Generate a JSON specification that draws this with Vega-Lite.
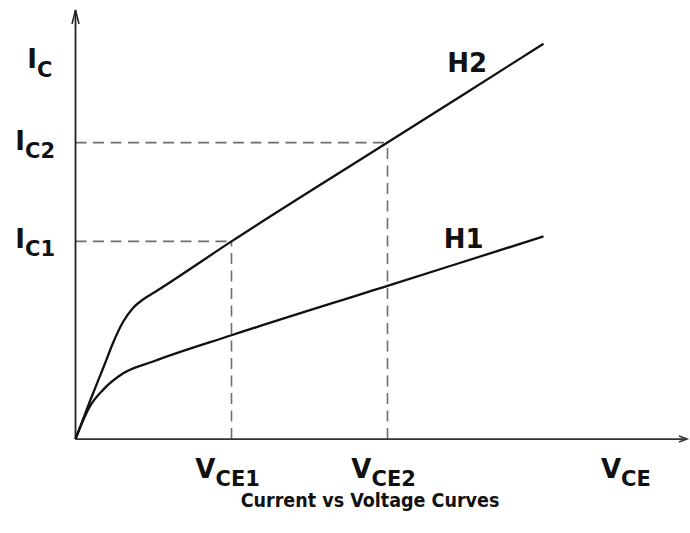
{
  "$schema": "https://vega.github.io/schema/vega-lite/v6.json",
  "width": 690,
  "height": 533,
  "padding": 0,
  "autosize": {"type": "none"},
  "background": "white",
  "config": {"view": {"stroke": null}},
  "datasets": {
    "curves": [
      {"curve": "H2", "vce": 0, "ic": 0},
      {"curve": "H2", "vce": 0.465, "ic": 0.385},
      {"curve": "H2", "vce": 0.913, "ic": 0.739},
      {"curve": "H2", "vce": 1.202, "ic": 0.972},
      {"curve": "H2", "vce": 1.522, "ic": 1.184},
      {"curve": "H2", "vce": 1.843, "ic": 1.326},
      {"curve": "H2", "vce": 2.163, "ic": 1.412},
      {"curve": "H2", "vce": 2.548, "ic": 1.488},
      {"curve": "H2", "vce": 5, "ic": 2},
      {"curve": "H2", "vce": 10, "ic": 3},
      {"curve": "H2", "vce": 15, "ic": 4},
      {"curve": "H1", "vce": 0, "ic": 0},
      {"curve": "H1", "vce": 0.46, "ic": 0.33},
      {"curve": "H1", "vce": 0.89, "ic": 0.5},
      {"curve": "H1", "vce": 1.53, "ic": 0.665},
      {"curve": "H1", "vce": 2.49, "ic": 0.785},
      {"curve": "H1", "vce": 5, "ic": 1.05},
      {"curve": "H1", "vce": 10, "ic": 1.55},
      {"curve": "H1", "vce": 15, "ic": 2.05}
    ],
    "origin": [
      {"vce": 0, "ic": 0}
    ],
    "points": [
      {"point": "1", "vce": 5, "ic": 2},
      {"point": "2", "vce": 10, "ic": 3}
    ],
    "xlabels": [
      {"main": "V", "sub": "CE1", "vce": 5, "ic": 0},
      {"main": "V", "sub": "CE2", "vce": 10, "ic": 0},
      {"main": "V", "sub": "CE", "vce": 18, "ic": 0}
    ],
    "ylabels": [
      {"main": "I", "sub": "C1", "vce": 0, "ic": 2},
      {"main": "I", "sub": "C2", "vce": 0, "ic": 3}
    ],
    "yname": [
      {"main": "I", "sub": "C", "vce": 0, "ic": 3.755}
    ],
    "curvenames": [
      {"curve": "H2", "vce": 12.55, "ic": 3.715},
      {"curve": "H1", "vce": 12.44, "ic": 1.933}
    ],
    "caption": [
      {"caption": "Current vs Voltage Curves", "vce": 9.44, "ic": -0.69}
    ]
  },
  "encoding": {
    "x": {"field": "vce", "type": "quantitative", "scale": {"domain": [-2.42, 19.696], "nice": false, "zero": false}, "axis": null},
    "y": {"field": "ic", "type": "quantitative", "scale": {"domain": [-0.951, 4.443], "nice": false, "zero": false}, "axis": null}
  },
  "layer": [
    {
      "data": {"name": "points"},
      "mark": {"type": "rule", "color": "#6e6e6e", "strokeWidth": 1.6, "strokeDash": [11, 6.5]},
      "encoding": {"x": {"datum": 0}, "x2": {"field": "vce"}}
    },
    {
      "data": {"name": "points"},
      "mark": {"type": "rule", "color": "#6e6e6e", "strokeWidth": 1.6, "strokeDash": [11, 6.5]},
      "encoding": {"y": {"datum": 0}, "y2": {"field": "ic"}}
    },
    {
      "data": {"name": "origin"},
      "mark": {"type": "rule", "color": "#333333", "strokeWidth": 1.8},
      "encoding": {"x2": {"datum": 19.6}}
    },
    {
      "data": {"name": "origin"},
      "mark": {"type": "rule", "color": "#222222", "strokeWidth": 1.8},
      "encoding": {"y2": {"datum": 4.342}}
    },
    {
      "data": {"name": "origin"},
      "mark": {"type": "point", "shape": "M-2,-0.75L0,0L-2,0.75", "size": 64, "filled": false, "opacity": 1, "color": "#333333", "strokeWidth": 1.5},
      "encoding": {"x": {"datum": 19.6}}
    },
    {
      "data": {"name": "origin"},
      "mark": {"type": "point", "shape": "M-0.5,2L0,0L0.5,2", "size": 196, "filled": false, "opacity": 1, "color": "#222222", "strokeWidth": 1.5},
      "encoding": {"y": {"datum": 4.342}}
    },
    {
      "data": {"name": "curves"},
      "mark": {"type": "line", "interpolate": "monotone", "color": "#111111", "strokeWidth": 2.3},
      "encoding": {"detail": {"field": "curve"}}
    },
    {
      "data": {"name": "curvenames"},
      "mark": {"type": "text", "font": "DejaVu Sans", "fontWeight": "bold", "fontSize": 26, "align": "center", "baseline": "alphabetic", "color": "#111111"},
      "encoding": {"text": {"field": "curve"}}
    },
    {
      "data": {"name": "xlabels"},
      "mark": {"type": "text", "font": "DejaVu Sans", "fontWeight": "bold", "fontSize": 26, "align": "right", "baseline": "alphabetic", "dx": -16, "dy": 39, "color": "#111111"},
      "encoding": {"text": {"field": "main"}}
    },
    {
      "data": {"name": "xlabels"},
      "mark": {"type": "text", "font": "DejaVu Sans", "fontWeight": "bold", "fontSize": 21, "align": "left", "baseline": "alphabetic", "dx": -16, "dy": 47, "color": "#111111"},
      "encoding": {"text": {"field": "sub"}}
    },
    {
      "data": {"name": "ylabels"},
      "mark": {"type": "text", "font": "DejaVu Sans", "fontWeight": "bold", "fontSize": 26, "align": "right", "baseline": "alphabetic", "dx": -50.5, "dy": 7, "color": "#111111"},
      "encoding": {"text": {"field": "main"}}
    },
    {
      "data": {"name": "ylabels"},
      "mark": {"type": "text", "font": "DejaVu Sans", "fontWeight": "bold", "fontSize": 21, "align": "left", "baseline": "alphabetic", "dx": -50.5, "dy": 15, "color": "#111111"},
      "encoding": {"text": {"field": "sub"}}
    },
    {
      "data": {"name": "yname"},
      "mark": {"type": "text", "font": "DejaVu Sans", "fontWeight": "bold", "fontSize": 26, "align": "right", "baseline": "alphabetic", "dx": -38.5, "dy": 0, "color": "#111111"},
      "encoding": {"text": {"field": "main"}}
    },
    {
      "data": {"name": "yname"},
      "mark": {"type": "text", "font": "DejaVu Sans", "fontWeight": "bold", "fontSize": 21, "align": "left", "baseline": "alphabetic", "dx": -38.5, "dy": 9, "color": "#111111"},
      "encoding": {"text": {"field": "sub"}}
    },
    {
      "data": {"name": "caption"},
      "mark": {"type": "text", "font": "DejaVu Sans Condensed", "fontWeight": "bold", "fontSize": 19.5, "align": "center", "baseline": "alphabetic", "color": "#111111"},
      "encoding": {"text": {"field": "caption"}}
    }
  ]
}
